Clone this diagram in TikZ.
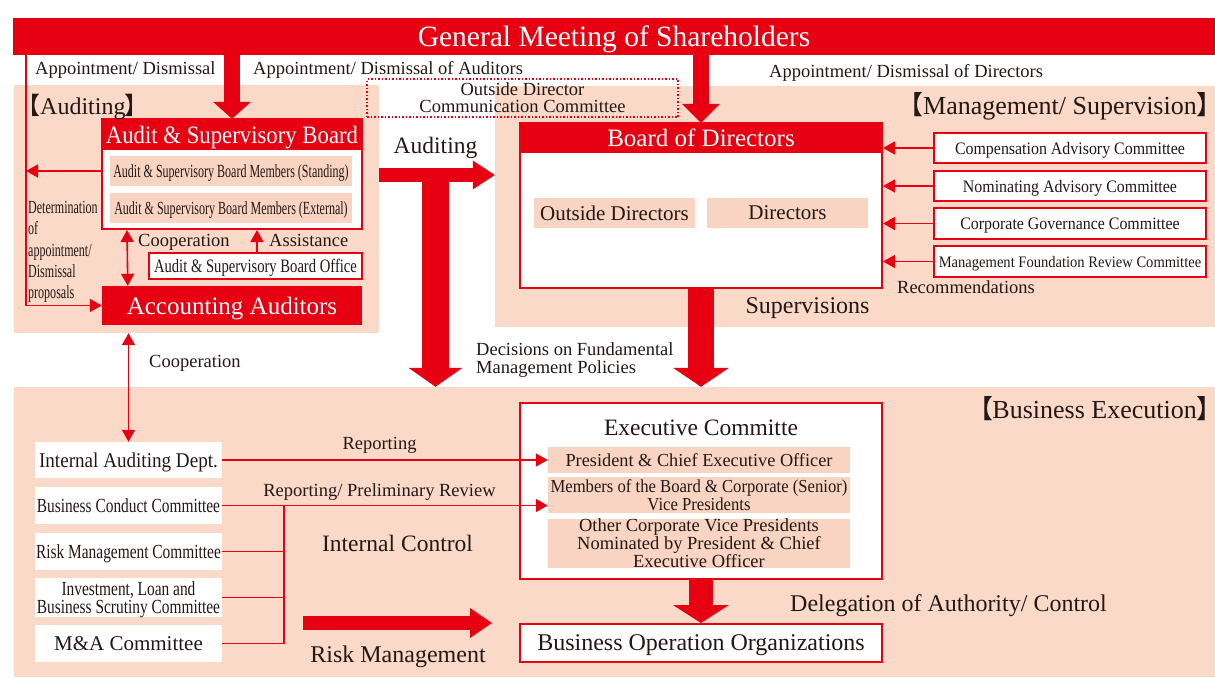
\documentclass[tikz,border=0pt]{standalone}
\usepackage{fontspec}
\setmainfont{Liberation Serif}
\newfontfamily\cond{Liberation Serif}[FakeStretch=0.65]
\newfontfamily\condb{Liberation Serif}[FakeStretch=0.77]
\newfontfamily\condc{Liberation Serif}[FakeStretch=0.91]
\newfontfamily\cjk{Noto Sans CJK JP}[RawFeature=+palt]
\usetikzlibrary{arrows.meta}
\definecolor{jred}{RGB}{230,0,18}
\definecolor{panel}{RGB}{250,217,200}
\definecolor{inner}{RGB}{249,212,194}
\definecolor{ink}{RGB}{35,24,21}
\newcommand{\fsz}[2]{\fontsize{#1}{#2}\selectfont}
\tikzset{
  cell/.style={rectangle, inner sep=0pt, align=center, text=ink, text depth=0pt},
  redbox/.style={cell, fill=jred, text=white},
  framebox/.style={cell, draw=jred, line width=2pt, fill=white},
  pinkbox/.style={cell, fill=inner},
  whitebox/.style={cell, fill=white},
  panelbox/.style={rectangle, inner sep=0pt, fill=panel},
  txt/.style={inner sep=0pt, text=ink, align=left, text depth=0pt},
  thinline/.style={draw=jred, line width=1.6pt},
  arr/.style={-{Triangle[length=12pt,width=13pt]}},
  arrs/.style={{Triangle[length=12pt,width=13pt]}-{Triangle[length=12pt,width=13pt]}},
  bigarrow/.style={draw=jred, line width=#1},
}
\begin{document}
\begin{tikzpicture}[x=1pt,y=-1pt]
\useasboundingbox (0,0) rectangle (1215,678);
% background areas
\node[panelbox, minimum width=365pt, minimum height=248pt] (audpanel) at (196.5,209) {};
\node[panelbox, minimum width=720pt, minimum height=241pt] (mgtpanel) at (855,206.5) {};
\node[panelbox, minimum width=1201pt, minimum height=290pt] (bexpanel) at (614.5,532) {};
\node[redbox, minimum width=1202pt, minimum height=37pt, font=\fsz{29.5}{29.5}] (gms) at (614,36.5) {General Meeting of Shareholders};

% auditing
\node[framebox, minimum width=260pt, minimum height=110pt] (asb) at (232,174) {};
\node[redbox, minimum width=260pt, minimum height=31pt, font=\condc\fsz{25}{25}] (asbhead) at (232,134.5) {Audit \& Supervisory Board};
\node[pinkbox, minimum width=242pt, minimum height=30pt, font=\cond\fsz{18.5}{18.5}] (std) at (231,171) {Audit \& Supervisory Board Members (Standing)};
\node[pinkbox, minimum width=242pt, minimum height=30pt, font=\cond\fsz{18.5}{18.5}] (ext) at (231,208) {Audit \& Supervisory Board Members (External)};
\node[framebox, line width=1.6pt, minimum width=213pt, minimum height=26pt, font=\condb\fsz{19}{19}] (office) at (255.5,266) {Audit \& Supervisory Board Office};
\node[redbox, minimum width=260pt, minimum height=39pt, font=\fsz{25}{25}] (acc) at (232,305.5) {Accounting Auditors};
\node[cell, draw=jred, dotted, line width=1.5pt, minimum width=311pt, minimum height=38pt, font=\fsz{18.5}{17}] (odcc) at (522.5,98) {Outside Director\\Communication Committee};

% management / supervision
\node[framebox, minimum width=362pt, minimum height=165pt] (bod) at (701,205.5) {};
\node[redbox, minimum width=362pt, minimum height=30pt, font=\fsz{25}{25}] (bodhead) at (701,138) {Board of Directors};
\node[pinkbox, minimum width=161pt, minimum height=30pt, font=\fsz{21}{21}] (outdir) at (614.5,213) {Outside Directors};
\node[pinkbox, minimum width=161pt, minimum height=30pt, font=\fsz{21}{21}] (dirs) at (787.5,213) {Directors};
\node[framebox, minimum width=272pt, minimum height=30pt, font=\condc\fsz{17.5}{17.5}] (comp) at (1070,148) {Compensation Advisory Committee};
\node[framebox, minimum width=272pt, minimum height=30pt, font=\condc\fsz{17.5}{17.5}] (nom) at (1070,186) {Nominating Advisory Committee};
\node[framebox, minimum width=272pt, minimum height=31pt, font=\condc\fsz{17.5}{17.5}] (cg) at (1070,223.5) {Corporate Governance Committee};
\node[framebox, minimum width=272pt, minimum height=31pt, font=\condc\fsz{16}{16}] (mfr) at (1070,261.5) {Management Foundation Review Committee};

% business execution
\node[framebox, minimum width=362pt, minimum height=176pt] (exec) at (701,491) {};
\node[txt, font=\fsz{23.5}{23.5}] (exectitle) at (701,428) {Executive Committe};
\node[pinkbox, minimum width=302pt, minimum height=26pt, font=\fsz{18.3}{18.3}] (pres) at (699,460) {President \& Chief Executive Officer};
\node[pinkbox, minimum width=302pt, minimum height=36pt, font=\condc\fsz{18.3}{16}] (memb) at (699,495) {Members of the Board \& Corporate (Senior)\\Vice Presidents};
\node[pinkbox, minimum width=302pt, minimum height=49pt, font=\fsz{18.5}{16}] (other) at (699,543.5) {Other Corporate Vice Presidents\\Nominated by President \& Chief\\Executive Officer};
\node[framebox, minimum width=362pt, minimum height=38pt, font=\fsz{24}{24}] (bo) at (701,643) {Business Operation Organizations};
\node[whitebox, minimum width=187pt, minimum height=36pt, font=\condc\fsz{21}{21}] (iad) at (128.5,460) {Internal Auditing Dept.};
\node[whitebox, minimum width=187pt, minimum height=37pt, font=\condb\fsz{20}{20}] (bcc) at (128.5,505.5) {Business Conduct Committee};
\node[whitebox, minimum width=187pt, minimum height=37pt, font=\condb\fsz{20}{20}] (rmc) at (128.5,551.5) {Risk Management Committee};
\node[whitebox, minimum width=187pt, minimum height=39pt, font=\condb\fsz{20}{18}] (ilb) at (128.5,597.5) {Investment, Loan and\\Business Scrutiny Committee};
\node[whitebox, minimum width=187pt, minimum height=37pt, font=\fsz{21}{21}] (mac) at (128.5,643.5) {M\&A Committee};

% big arrows
\draw[bigarrow=16pt, -{Triangle[length=17pt,width=38pt,line width=0pt]}] (asbhead |- gms.south) -- (asbhead.north);
\draw[bigarrow=16pt, -{Triangle[length=19pt,width=38pt,line width=0pt]}] (bodhead |- gms.south) -- (bodhead.north);
\coordinate (audfrom) at (379,175);
\coordinate (tee) at (435.5,168);
\draw[bigarrow=14pt, -{Triangle[length=22pt,width=29pt,line width=0pt]}] (audfrom) -- (audfrom -| mgtpanel.west);
\draw[bigarrow=27pt, -{Triangle[length=19pt,width=54pt,line width=0pt]}] (tee) -- (tee |- bexpanel.north);
\draw[bigarrow=26pt, -{Triangle[length=19pt,width=56pt,line width=0pt]}] (bod.south) -- (bod.south |- bexpanel.north);
\draw[bigarrow=24pt, -{Triangle[length=18pt,width=56pt,line width=0pt]}] (exec.south) -- (bo.north);
\coordinate (rkfrom) at (303,623);
\coordinate (rkto) at (492,623);
\draw[bigarrow=14pt, -{Triangle[length=22pt,width=30pt,line width=0pt]}] (rkfrom) -- (rkto);

% thin connectors
\coordinate (lft) at (26,55);
\draw[thinline, arr] (lft) |- (acc.west);
\draw[thinline, arr] (asb.west |- std) -- (lft |- std);
\draw[thinline, arrs] ([xshift=26pt]asb.south west) -- ([xshift=26pt]acc.north west);
\coordinate (asst) at ([xshift=156pt]asb.south west);
\draw[thinline, arr] (asst |- office.north) -- (asst);
\draw[thinline, arrs] (iad.north |- audpanel.south) -- (iad.north);
\draw[thinline, arr] (iad.east) -- (pres.west);
\draw[thinline, arr] (bcc.east) -- (bcc.east -| memb.west);
\coordinate (jn) at ([xshift=62pt]bcc.east);
\draw[thinline] (jn) |- (mac.east);
\draw[thinline] (rmc.east) -- (rmc.east -| jn);
\draw[thinline] (ilb.east) -- (ilb.east -| jn);
\foreach \c in {comp,nom,cg,mfr}
  \draw[thinline, arr] (\c.west) -- (\c.west -| bod.east);

% labels
\node[txt, anchor=west, font=\fsz{18.5}{18.5}] (l1) at (35,68) {Appointment/ Dismissal};
\node[txt, anchor=west, font=\fsz{18.5}{18.5}] (l2) at (253,68) {Appointment/ Dismissal of Auditors};
\node[txt, anchor=west, font=\fsz{18.5}{18.5}] (l3) at (769,71) {Appointment/ Dismissal of Directors};
\node[txt, anchor=west, font=\fsz{24}{24}] (haud) at (28,104) {{\cjk 【}Auditing{\cjk 】}};
\node[txt, anchor=east, font=\fsz{26}{26}] (hmgt) at (1210,103) {{\cjk 【}Management/ Supervision{\cjk 】}};
\node[txt, anchor=east, font=\fsz{26}{26}] (hbex) at (1210,407) {{\cjk 【}Business Execution{\cjk 】}};
\node[txt, font=\fsz{23.5}{23.5}] (laud) at (435.5,145) {Auditing};
\node[txt, anchor=west, font=\fsz{18.5}{18.5}] (lcoop) at (138,240) {Cooperation};
\node[txt, anchor=west, font=\fsz{18.5}{18.5}] (lasst) at (269,240) {Assistance};
\node[txt, anchor=west, font=\cond\fsz{18.5}{21.3}] (ldet) at (28,250) {Determination\\of\\appointment/\\Dismissal\\proposals};
\node[txt, font=\fsz{24}{24}] (lsup) at (807.5,306) {Supervisions};
\node[txt, font=\fsz{18.5}{18.5}] (lrec) at (966,287) {Recommendations};
\node[txt, anchor=west, font=\fsz{18.5}{18}] (ldec) at (476,358) {Decisions on Fundamental\\Management Policies};
\node[txt, anchor=west, font=\fsz{18.5}{18.5}] (lcoop2) at (149,361) {Cooperation};
\node[txt, font=\fsz{18.5}{18.5}] (lrep) at (379.5,443) {Reporting};
\node[txt, font=\fsz{18.5}{18.5}] (lrev) at (379.5,490) {Reporting/ Preliminary Review};
\node[txt, font=\fsz{23.5}{23.5}] (lic) at (397.5,543) {Internal Control};
\node[txt, font=\fsz{24}{24}] (lrm) at (398,654) {Risk Management};
\node[txt, font=\fsz{24}{24}] (ldel) at (948.5,603) {Delegation of Authority/ Control};
\end{tikzpicture}
\end{document}
